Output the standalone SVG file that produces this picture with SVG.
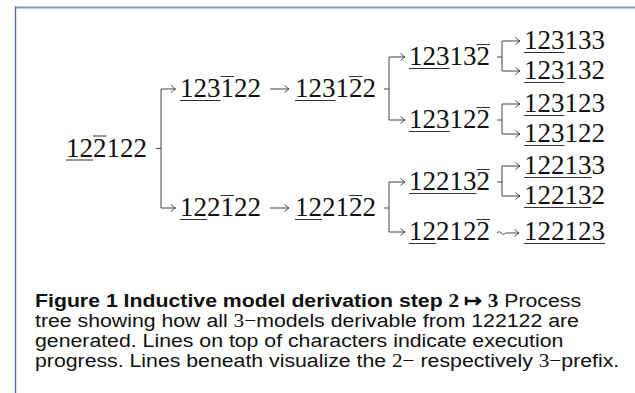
<svg xmlns="http://www.w3.org/2000/svg" width="635" height="393" viewBox="0 0 635 393">
<style>
.d{font-family:"Liberation Serif","Times New Roman",serif;font-size:27px;fill:#111}
.u{stroke:#333;stroke-width:1.1;fill:none}
.c{stroke:#444;stroke-width:1;fill:none}
.cap{font-family:"Liberation Sans",Arial,sans-serif;font-size:19px;fill:#111}
.m{font-family:"Liberation Serif","Times New Roman",serif}
</style>
<defs>
<marker id="ah" viewBox="-6 -5 8 10" markerWidth="8" markerHeight="10" refX="0" refY="0" orient="auto" markerUnits="userSpaceOnUse">
<path d="M-4.5,-3.5 Q-1.5,-0.8 0,0 Q-1.5,0.8 -4.5,3.5" stroke="#333" stroke-width="0.9" fill="none"/>
</marker>
</defs>
<rect width="635" height="393" fill="#fff"/>
<g id="frame">
<line x1="15" y1="7.5" x2="635" y2="7.5" stroke="#7f9ab0" stroke-width="2"/>
<line x1="15.5" y1="6.5" x2="15.5" y2="393" stroke="#4f6f8f" stroke-width="1.4"/>
</g>
<g id="connectors">
<path class="c" d="M156,148.5 H161 M161,89 V208"/>
<path class="c" d="M161,89 H175.5" marker-end="url(#ah)"/>
<path class="c" d="M161,208 H175.5" marker-end="url(#ah)"/>
<path class="c" d="M270,89 H289" marker-end="url(#ah)"/>
<path class="c" d="M270,208 H289" marker-end="url(#ah)"/>
<path class="c" d="M384,89 H389 M389,57 V120"/>
<path class="c" d="M389,57 H405" marker-end="url(#ah)"/>
<path class="c" d="M389,120 H405" marker-end="url(#ah)"/>
<path class="c" d="M384,208 H389 M389,182 V232"/>
<path class="c" d="M389,182 H405" marker-end="url(#ah)"/>
<path class="c" d="M389,232 H405" marker-end="url(#ah)"/>
<path class="c" d="M497,57 H502 M502,41 V71"/>
<path class="c" d="M502,41 H520" marker-end="url(#ah)"/>
<path class="c" d="M502,71 H520" marker-end="url(#ah)"/>
<path class="c" d="M497,120 H502 M502,104 V134"/>
<path class="c" d="M502,104 H520" marker-end="url(#ah)"/>
<path class="c" d="M502,134 H520" marker-end="url(#ah)"/>
<path class="c" d="M497,182 H502 M502,166 V196"/>
<path class="c" d="M502,166 H520" marker-end="url(#ah)"/>
<path class="c" d="M502,196 H520" marker-end="url(#ah)"/>
<path class="c" d="M497,233 q2.2,-3 4.4,0 t4.4,0 H519" marker-end="url(#ah)"/>
</g>
<g id="root">
<text class="d" x="66" y="156.5">122122</text>
<path class="u" d="M66,160 H93 M93,136 H106.5"/>
</g>
<g id="n1">
<text class="d" x="180" y="97">123122</text>
<path class="u" d="M180,100.5 H220.5 M220.5,76.5 H234"/>
</g>
<g id="n2">
<text class="d" x="295" y="97">123122</text>
<path class="u" d="M295,100.5 H335.5 M349,76.5 H362.5"/>
</g>
<g id="n3">
<text class="d" x="409" y="65">123132</text>
<path class="u" d="M409,68.5 H449.5 M476.5,44.5 H490"/>
</g>
<g id="n4">
<text class="d" x="409" y="128">123122</text>
<path class="u" d="M409,131.5 H449.5 M476.5,107.5 H490"/>
</g>
<g id="l1">
<text class="d" x="524" y="49">123133</text>
<path class="u" d="M524,52.5 H564.5"/>
</g>
<g id="l2">
<text class="d" x="524" y="79">123132</text>
<path class="u" d="M524,82.5 H564.5"/>
</g>
<g id="l3">
<text class="d" x="524" y="112">123123</text>
<path class="u" d="M524,115.5 H564.5"/>
</g>
<g id="l4">
<text class="d" x="524" y="142">123122</text>
<path class="u" d="M524,145.5 H564.5"/>
</g>
<g id="n5">
<text class="d" x="180" y="216">122122</text>
<path class="u" d="M180,219.5 H207 M220.5,195.5 H234"/>
</g>
<g id="n6">
<text class="d" x="295" y="216">122122</text>
<path class="u" d="M295,219.5 H322 M349,195.5 H362.5"/>
</g>
<g id="n7">
<text class="d" x="409" y="190">122132</text>
<path class="u" d="M409,193.5 H476.5 M476.5,169.5 H490"/>
</g>
<g id="n8">
<text class="d" x="409" y="240">122122</text>
<path class="u" d="M409,243.5 H436 M476.5,219.5 H490"/>
</g>
<g id="l5">
<text class="d" x="524" y="174">122133</text>
<path class="u" d="M524,177.5 H591.5"/>
</g>
<g id="l6">
<text class="d" x="524" y="204">122132</text>
<path class="u" d="M524,207.5 H591.5"/>
</g>
<g id="l7">
<text class="d" x="524" y="240">122123</text>
<path class="u" d="M524,243.5 H605"/>
</g>
<g id="caption">
<text class="cap" transform="translate(35,307) scale(1.12,1)"><tspan font-weight="bold">Figure 1  Inductive model derivation step </tspan><tspan class="m" font-weight="bold">2 ↦ 3</tspan> Process</text>
<text class="cap" transform="translate(35,327) scale(1.12,1)">tree showing how all <tspan class="m">3−</tspan>models derivable from 122122 are</text>
<text class="cap" transform="translate(35,347) scale(1.12,1)">generated. Lines on top of characters indicate execution</text>
<text class="cap" transform="translate(35,367) scale(1.12,1)">progress. Lines beneath visualize the <tspan class="m">2−</tspan> respectively <tspan class="m">3−</tspan>prefix.</text>
</g>
</svg>
